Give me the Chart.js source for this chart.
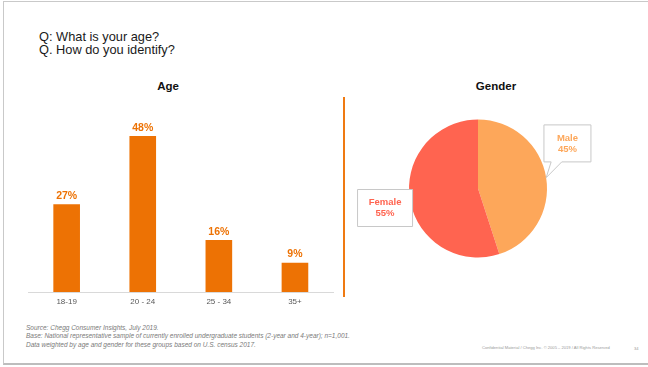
<!DOCTYPE html>
<html>
<head>
<meta charset="utf-8">
<script src="https://cdn.jsdelivr.net/npm/chart.js@4/dist/chart.umd.min.js"></script>
<style>
  html, body { margin: 0; padding: 0; background: #fff; }
  body { width: 648px; height: 367px; overflow: hidden; position: relative;
         font-family: "Liberation Sans", Arial, sans-serif; }
  .frame { position: absolute; left: 3px; top: 1px; width: 660px; height: 361px;
           border-top: 1px solid #c9c9c9; border-left: 1px solid #c9c9c9;
           border-bottom: 2px solid #bdbdbd; box-sizing: content-box; }
  .txt { position: absolute; white-space: nowrap; }
  .q { left: 39px; font-size: 12.8px; color: #1a1a1a; line-height: 13px; }
  .ttl { font-size: 11.5px; font-weight: bold; color: #111; transform: translateX(-50%); }
  .sep { position: absolute; left: 343px; top: 97px; width: 2px; height: 200px; background: #ef7a12; }
  .foot { left: 26px; font-size: 6.5px; font-style: italic; color: #7a7a7a; line-height: 7px; }
  .conf { font-size: 4.1px; color: #9a9a9a; }
  #ageBox { position: absolute; left: 20px; top: 100px; width: 320px; height: 210px; }
  #genderBox { position: absolute; left: 350px; top: 100px; width: 290px; height: 200px; }
</style>
</head>
<body>
<div class="frame"></div>
<div class="txt q" style="top:30px">Q: What is your age?</div>
<div class="txt q" style="top:43px">Q. How do you identify?</div>
<div class="txt ttl" style="left:168px; top:80px">Age</div>
<div class="txt ttl" style="left:496px; top:80px">Gender</div>
<div class="sep"></div>
<div id="ageBox"><canvas id="ageChart" width="320" height="210"></canvas></div>
<div id="genderBox"><canvas id="genderChart" width="290" height="200"></canvas></div>
<div class="txt foot" style="top:324px">Source: Chegg Consumer Insights, July 2019.</div>
<div class="txt foot" style="top:332px">Base: National representative sample of currently enrolled undergraduate students (2-year and 4-year); n=1,001.</div>
<div class="txt foot" style="top:341px">Data weighted by age and gender for these groups based on U.S. census 2017.</div>
<div class="txt conf" style="left:482px; top:345px">Confidential Material / Chegg Inc. © 2005 – 2019 / All Rights Reserved</div>
<div class="txt conf" style="left:634px; top:346px">34</div>

<script>
// Survey results
const ageCategories = ['18-19', '20 - 24', '25 - 34', '35+'];
const ageShares = [27, 48, 16, 9];
const genderLabels = ['Male', 'Female'];
const genderShares = [45, 55];

const ORANGE = '#ed7204';
const MALE_COLOR = '#fda75a';
const FEMALE_COLOR = '#ff6450';
const FONT = '"Liberation Sans", Arial, sans-serif';

// Percentage labels above each bar
const barValueLabels = {
  id: 'barValueLabels',
  afterDatasetsDraw(chart) {
    const { ctx } = chart;
    const meta = chart.getDatasetMeta(0);
    const values = chart.data.datasets[0].data;
    ctx.save();
    ctx.font = 'bold 10.5px ' + FONT;
    ctx.fillStyle = ORANGE;
    ctx.textAlign = 'center';
    ctx.textBaseline = 'bottom';
    meta.data.forEach((bar, i) => {
      ctx.fillText(values[i] + '%', bar.x, bar.y - 3);
    });
    ctx.restore();
  }
};

new Chart(document.getElementById('ageChart'), {
  type: 'bar',
  data: {
    labels: ageCategories,
    datasets: [{
      data: ageShares,
      backgroundColor: ORANGE,
      borderWidth: 0,
      categoryPercentage: 0.7,
      barPercentage: 0.5
    }]
  },
  options: {
    responsive: false,
    animation: false,
    events: [],
    layout: { padding: { left: 8.6, right: 7, top: 29.5, bottom: 0 } },
    plugins: { legend: { display: false }, tooltip: { enabled: false } },
    scales: {
      x: {
        grid: { display: false, drawTicks: false },
        border: { display: true, color: '#d9d9d9', width: 1 },
        ticks: { color: '#595959', font: { family: FONT, size: 8 }, padding: 5 },
        afterFit(scale) { scale.height = 18; }
      },
      y: { display: false, min: 0, max: 50 }
    }
  },
  plugins: [barValueLabels]
});

// Callout boxes attached to the pie slices
const calloutSpecs = [
  { box: [-2.7, -53.3, 48, 38], tail: [5, 15.6], color: MALE_COLOR },
  { box: [-52.8, -10.3, 56, 38], tail: null, color: FEMALE_COLOR }
];

const pieCallouts = {
  id: 'pieCallouts',
  afterDraw(chart) {
    const { ctx } = chart;
    const meta = chart.getDatasetMeta(0);
    const labels = chart.data.labels;
    const values = chart.data.datasets[0].data;
    ctx.save();
    meta.data.forEach((arc, i) => {
      const spec = calloutSpecs[i];
      const mid = (arc.startAngle + arc.endAngle) / 2;
      const ax = arc.x + Math.cos(mid) * arc.outerRadius;
      const ay = arc.y + Math.sin(mid) * arc.outerRadius;
      const bx = ax + spec.box[0], by = ay + spec.box[1];
      const bw = spec.box[2], bh = spec.box[3];

      ctx.beginPath();
      if (spec.tail) {
        const bottom = by + bh;
        ctx.moveTo(bx + 0.5, by + 0.5);
        ctx.lineTo(bx + bw - 0.5, by + 0.5);
        ctx.lineTo(bx + bw - 0.5, bottom - 0.5);
        ctx.lineTo(ax + spec.tail[1], bottom - 0.5);
        ctx.lineTo(ax, ay);
        ctx.lineTo(ax + spec.tail[0], bottom - 0.5);
        ctx.lineTo(bx + 0.5, bottom - 0.5);
        ctx.closePath();
      } else {
        ctx.rect(bx + 0.5, by + 0.5, bw - 1, bh - 1);
      }
      ctx.fillStyle = '#ffffff';
      ctx.fill();
      ctx.strokeStyle = '#c8c8c8';
      ctx.lineWidth = 1;
      ctx.stroke();

      ctx.fillStyle = spec.color;
      ctx.font = 'bold 9.5px ' + FONT;
      ctx.textAlign = 'center';
      ctx.textBaseline = 'middle';
      const cx = bx + bw / 2, cy = by + bh / 2;
      ctx.fillText(labels[i], cx, cy - 5.5);
      ctx.fillText(values[i] + '%', cx, cy + 5.5);
    });
    ctx.restore();
  }
};

new Chart(document.getElementById('genderChart'), {
  type: 'pie',
  data: {
    labels: genderLabels,
    datasets: [{
      data: genderShares,
      backgroundColor: [MALE_COLOR, FEMALE_COLOR],
      borderWidth: 0
    }]
  },
  options: {
    responsive: false,
    animation: false,
    events: [],
    layout: { padding: { left: 59, right: 93, top: 19.5, bottom: 42.5 } },
    plugins: { legend: { display: false }, tooltip: { enabled: false } }
  },
  plugins: [pieCallouts]
});
</script>
</body>
</html>
